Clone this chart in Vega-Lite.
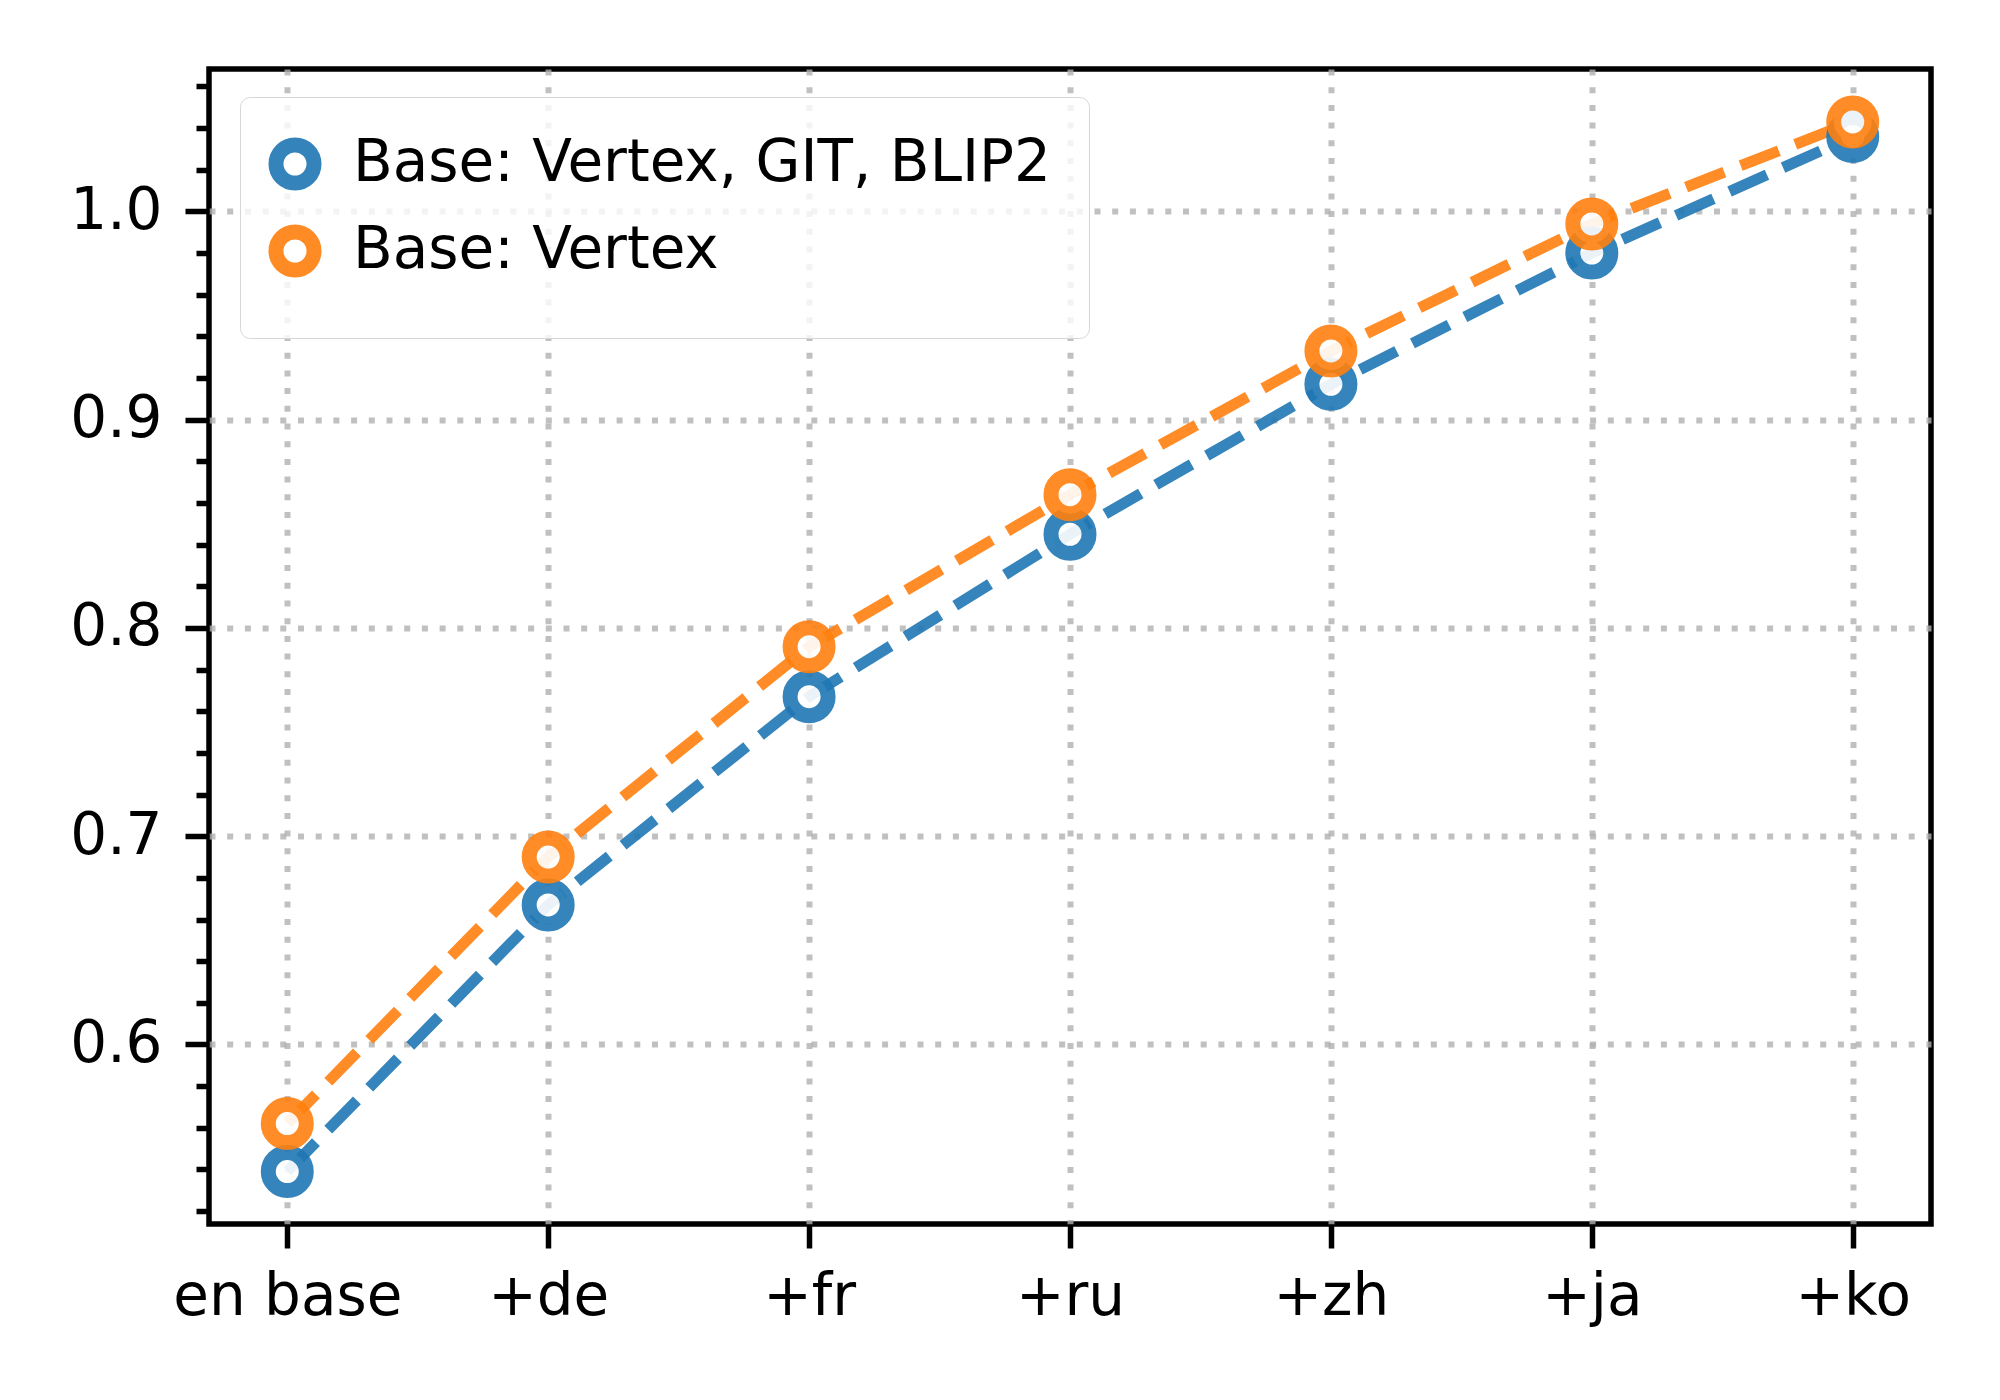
{
  "$schema": "https://vega.github.io/schema/vega-lite/v6.json",
  "width": 1722,
  "height": 1155,
  "autosize": "none",
  "padding": {"left": 209, "top": 69, "right": 69, "bottom": 176},
  "background": "white",
  "config": {
    "font": "DejaVu Sans",
    "view": {"stroke": "black", "strokeWidth": 5.5},
    "axis": {
      "domain": false,
      "labelFont": "DejaVu Sans",
      "labelFontSize": 58,
      "labelColor": "black",
      "labelLimit": 0,
      "tickColor": "black",
      "tickWidth": 5.5,
      "gridColor": "#b0b0b0",
      "gridWidth": 6,
      "gridDash": [6, 11.7],
      "title": null
    }
  },
  "data": {
    "values": [
      {"step": "en base", "model": "Base: Vertex, GIT, BLIP2", "score": 0.539},
      {"step": "+de", "model": "Base: Vertex, GIT, BLIP2", "score": 0.667},
      {"step": "+fr", "model": "Base: Vertex, GIT, BLIP2", "score": 0.767},
      {"step": "+ru", "model": "Base: Vertex, GIT, BLIP2", "score": 0.845},
      {"step": "+zh", "model": "Base: Vertex, GIT, BLIP2", "score": 0.917},
      {"step": "+ja", "model": "Base: Vertex, GIT, BLIP2", "score": 0.980},
      {"step": "+ko", "model": "Base: Vertex, GIT, BLIP2", "score": 1.036},
      {"step": "en base", "model": "Base: Vertex", "score": 0.562},
      {"step": "+de", "model": "Base: Vertex", "score": 0.690},
      {"step": "+fr", "model": "Base: Vertex", "score": 0.791},
      {"step": "+ru", "model": "Base: Vertex", "score": 0.864},
      {"step": "+zh", "model": "Base: Vertex", "score": 0.933},
      {"step": "+ja", "model": "Base: Vertex", "score": 0.994},
      {"step": "+ko", "model": "Base: Vertex", "score": 1.043}
    ]
  },
  "encoding": {
    "x": {
      "field": "step",
      "type": "ordinal",
      "sort": ["en base", "+de", "+fr", "+ru", "+zh", "+ja", "+ko"],
      "scale": {"type": "point", "padding": 0.3},
      "axis": {
        "labelAngle": 0,
        "tickSize": 24,
        "labelPadding": 20,
        "grid": true,
        "gridOpacity": 0.8
      }
    },
    "y": {
      "field": "score",
      "type": "quantitative",
      "scale": {"domain": [0.5138, 1.0684], "nice": false, "zero": false},
      "axis": {
        "values": [0.52, 0.54, 0.56, 0.58, 0.6, 0.62, 0.64, 0.66, 0.68, 0.7, 0.72, 0.74, 0.76, 0.78, 0.8, 0.82, 0.84, 0.86, 0.88, 0.9, 0.92, 0.94, 0.96, 0.98, 1.0, 1.02, 1.04, 1.06],
        "labelExpr": "abs(datum.value * 10 - round(datum.value * 10)) < 0.001 ? format(datum.value, '.1f') : ''",
        "tickSize": {"condition": {"test": "abs(datum.value * 10 - round(datum.value * 10)) < 0.001", "value": 24}, "value": 13},
        "gridOpacity": {"condition": {"test": "abs(datum.value * 10 - round(datum.value * 10)) < 0.001", "value": 0.8}, "value": 0},
        "labelPadding": 23
      }
    },
    "stroke": {
      "field": "model",
      "type": "nominal",
      "sort": ["Base: Vertex, GIT, BLIP2", "Base: Vertex"],
      "scale": {"range": ["#1f77b4", "#ff7f0e"]},
      "legend": {
        "title": null,
        "orient": "none",
        "legendX": 31,
        "legendY": 28,
        "padding": 38,
        "rowPadding": -11,
        "symbolOffset": -12,
        "labelOffset": 29,
        "labelLimit": 0,
        "labelFont": "DejaVu Sans",
        "labelFontSize": 58,
        "labelColor": "black",
        "symbolType": "circle",
        "symbolSize": 1444,
        "symbolStrokeWidth": 15,
        "symbolFillColor": "white",
        "symbolOpacity": 0.9,
        "fillColor": "rgba(255,255,255,0.8)",
        "strokeColor": "#d6d6d6",
        "cornerRadius": 10
      }
    }
  },
  "layer": [
    {"mark": {"type": "line", "strokeDash": [41, 17.6], "strokeWidth": 11, "opacity": 0.9}},
    {"mark": {"type": "point", "shape": "circle", "filled": true, "fill": "white", "size": 1444, "strokeWidth": 15, "fillOpacity": 0.9, "strokeOpacity": 0.9}}
  ]
}
